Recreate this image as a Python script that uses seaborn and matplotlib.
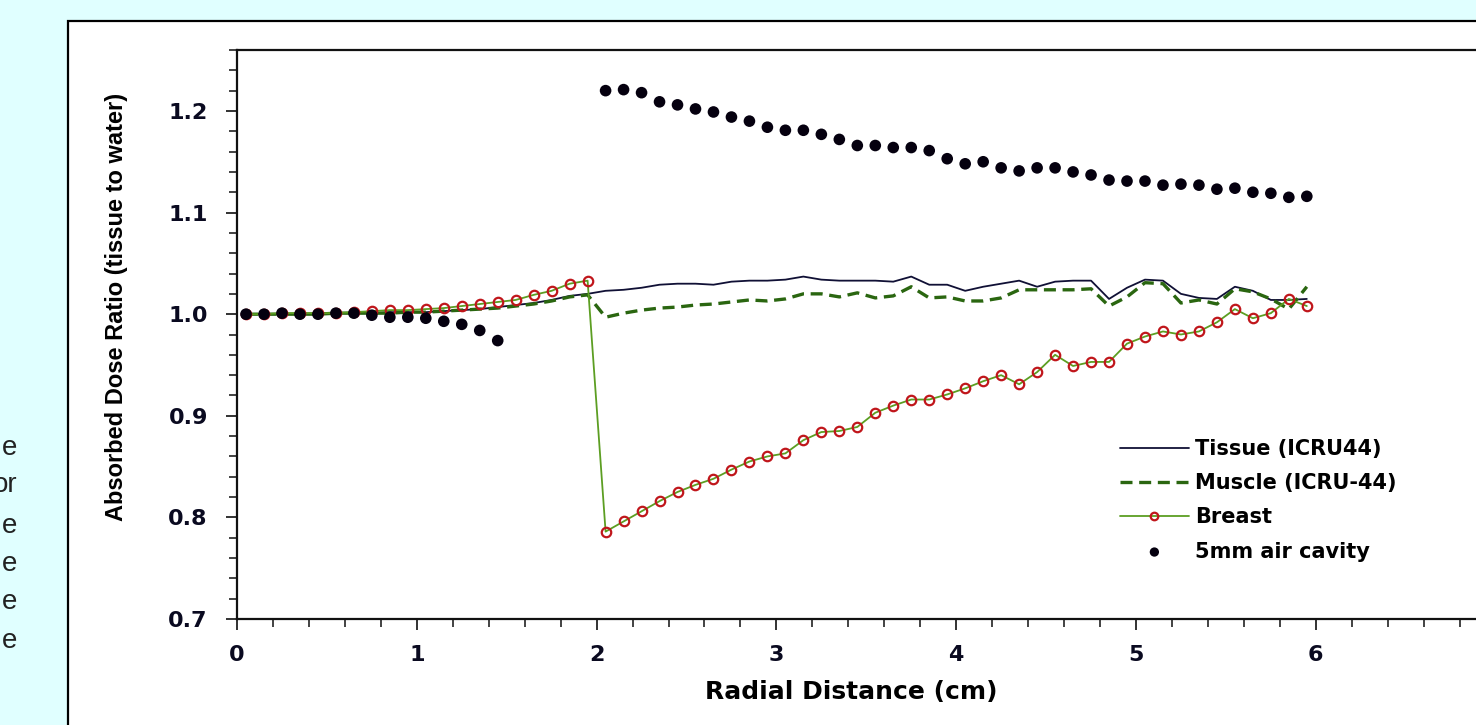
import matplotlib
matplotlib.use("Agg")
import matplotlib.pyplot as plt
import seaborn as sns
import pandas as pd
from matplotlib.patches import Rectangle
from matplotlib.ticker import MultipleLocator

# ---------------- data ----------------
dist_cm = [0.05, 0.15, 0.25, 0.35, 0.45, 0.55, 0.65, 0.75, 0.85, 0.95,
           1.05, 1.15, 1.25, 1.35, 1.45, 1.55, 1.65, 1.75, 1.85, 1.95,
           2.05, 2.15, 2.25, 2.35, 2.45, 2.55, 2.65, 2.75, 2.85, 2.95,
           3.05, 3.15, 3.25, 3.35, 3.45, 3.55, 3.65, 3.75, 3.85, 3.95,
           4.05, 4.15, 4.25, 4.35, 4.45, 4.55, 4.65, 4.75, 4.85, 4.95,
           5.05, 5.15, 5.25, 5.35, 5.45, 5.55, 5.65, 5.75, 5.85, 5.95]

tissue = [1.000, 1.000, 1.000, 1.000, 1.001, 1.001, 1.001, 1.001, 1.002, 1.002,
          1.002, 1.003, 1.004, 1.005, 1.007, 1.009, 1.011, 1.014, 1.018, 1.020,
          1.023, 1.024, 1.026, 1.029, 1.030, 1.030, 1.029, 1.032, 1.033, 1.033,
          1.034, 1.037, 1.034, 1.033, 1.033, 1.033, 1.032, 1.037, 1.029, 1.029,
          1.023, 1.027, 1.030, 1.033, 1.027, 1.032, 1.033, 1.033, 1.015, 1.026,
          1.034, 1.033, 1.020, 1.016, 1.015, 1.027, 1.023, 1.014, 1.014, 1.015]

muscle = [1.000, 1.000, 1.000, 1.000, 1.000, 1.001, 1.001, 1.001, 1.001, 1.002,
          1.002, 1.003, 1.004, 1.005, 1.006, 1.008, 1.010, 1.013, 1.017, 1.019,
          0.997, 1.001, 1.004, 1.006, 1.007, 1.009, 1.010, 1.012, 1.014, 1.013,
          1.015, 1.020, 1.020, 1.017, 1.021, 1.016, 1.018, 1.027, 1.016, 1.017,
          1.013, 1.013, 1.016, 1.024, 1.024, 1.024, 1.024, 1.025, 1.008, 1.017,
          1.031, 1.030, 1.011, 1.014, 1.010, 1.025, 1.022, 1.015, 1.005, 1.027]

breast = [1.000, 1.000, 1.001, 1.001, 1.001, 1.001, 1.002, 1.003, 1.004, 1.004,
          1.005, 1.006, 1.008, 1.010, 1.012, 1.014, 1.019, 1.023, 1.030, 1.033,
          0.786, 0.796, 0.806, 0.816, 0.825, 0.832, 0.838, 0.847, 0.855, 0.860,
          0.863, 0.876, 0.884, 0.885, 0.889, 0.903, 0.910, 0.916, 0.916, 0.921,
          0.927, 0.934, 0.940, 0.931, 0.943, 0.960, 0.949, 0.953, 0.953, 0.971,
          0.978, 0.983, 0.980, 0.983, 0.992, 1.005, 0.996, 1.001, 1.015, 1.008]

air_x = dist_cm[:15] + dist_cm[20:]
air_cavity = [1.000, 1.000, 1.001, 1.000, 1.000, 1.001, 1.001, 0.999, 0.997, 0.997,
              0.996, 0.993, 0.990, 0.984, 0.974,
              1.220, 1.221, 1.218, 1.209, 1.206, 1.202, 1.199, 1.194, 1.190, 1.184,
              1.181, 1.181, 1.177, 1.172, 1.166, 1.166, 1.164, 1.164, 1.161, 1.153,
              1.148, 1.150, 1.144, 1.141, 1.144, 1.144, 1.140, 1.137, 1.132, 1.131,
              1.131, 1.127, 1.128, 1.127, 1.123, 1.124, 1.120, 1.119, 1.115, 1.116]

series_labels = ["Tissue (ICRU44)", "Muscle (ICRU-44)", "Breast", "5mm air cavity"]
x_ticks = [0, 1, 2, 3, 4, 5, 6]
y_ticks = [0.7, 0.8, 0.9, 1.0, 1.1, 1.2]
side_fragments = ["e", "or", "e", "e", "e", "e"]

x_label = "Radial Distance (cm)"
y_label = "Absorbed Dose Ratio (tissue to water)"

# ---------------- figure ----------------
sns.set_theme(style="white")
plt.rcParams["font.family"] = ["DejaVu Sans"]

W, H = 1476, 725
fig = plt.figure(figsize=(W / 100, H / 100), dpi=100)
fig.patch.set_facecolor("#e0ffff")

# white slide panel with black border (extends past right/bottom edges)
panel = Rectangle((68 / W, -0.2), 1.5, 1 - 21 / H + 0.2, transform=fig.transFigure,
                  facecolor="white", edgecolor="black", linewidth=1.6, zorder=-10)
fig.patches.append(panel)

# fragments of slide text at left edge
frag_baselines = [455, 492, 533, 571, 609, 648]
for txt, yb in zip(side_fragments, frag_baselines):
    fig.text(17 / W, 1 - yb / H, txt, ha="right", va="baseline", fontsize=20,
             color="#222222", family=["Liberation Sans", "DejaVu Sans"])

# axes: x 0..7 (cropped at right), y 0.7..1.26
x0_px, per_cm = 237, 179.8
ax_left = x0_px / W
ax_width = 7 * per_cm / W
ax_bottom = (H - 619) / H
ax_top = (H - 50) / H
ax = fig.add_axes([ax_left, ax_bottom, ax_width, ax_top - ax_bottom])
ax.set_zorder(1)
ax.set_facecolor("white")

df = pd.DataFrame({"dist": dist_cm, "tissue": tissue, "muscle": muscle, "breast": breast})
df_air = pd.DataFrame({"dist": air_x, "air": air_cavity})

sns.lineplot(data=df, x="dist", y="tissue", ax=ax, color="#101035", linewidth=1.3,
             label=series_labels[0], zorder=3)
sns.lineplot(data=df, x="dist", y="muscle", ax=ax, color="#2a6610", linewidth=2.4,
             label=series_labels[1], zorder=3)
sns.lineplot(data=df, x="dist", y="breast", ax=ax, color="#5c9e22", linewidth=1.3,
             marker="o", markersize=6.8, markerfacecolor="none",
             markeredgecolor="#c0161b", markeredgewidth=1.6,
             label=series_labels[2], zorder=4)
sns.scatterplot(data=df_air, x="dist", y="air", ax=ax, color="#05000f", s=70,
                edgecolor="none", label=series_labels[3], zorder=5)

ax.lines[1].set_dashes([3.6, 2.0])

ax.set_xlim(0, 7)
ax.set_ylim(0.7, 1.26)
ax.set_xticks(x_ticks)
ax.set_xticklabels([str(v) for v in x_ticks])
ax.set_yticks(y_ticks)
ax.set_yticklabels([f"{v:.1f}" for v in y_ticks])
ax.xaxis.set_minor_locator(MultipleLocator(0.2))
ax.yaxis.set_minor_locator(MultipleLocator(0.02))

tick_color = "#0a0a20"
ax.tick_params(axis="both", which="major", direction="out", length=8, width=1.3,
               color="#222222", labelsize=16, labelcolor=tick_color)
ax.tick_params(axis="both", which="minor", direction="out", length=6, width=1.2,
               color="#222222")
ax.tick_params(axis="x", which="major", pad=11)
ax.tick_params(axis="y", which="major", pad=13)
ax.tick_params(axis="x", which="both", bottom=True, top=False)
ax.tick_params(axis="y", which="both", left=True, right=False)
for lab in ax.get_xticklabels() + ax.get_yticklabels():
    lab.set_fontweight("bold")

for side in ["left", "bottom", "top", "right"]:
    ax.spines[side].set_visible(True)
    ax.spines[side].set_color("#111111")
    ax.spines[side].set_linewidth(1.6)

ax.set_xlabel(x_label, fontsize=18, fontweight="bold", color="black")
ax.set_ylabel(y_label, fontsize=17, fontweight="bold", color="black",
              family=["Liberation Sans", "DejaVu Sans"])
ax.yaxis.set_label_coords(-(x0_px - 116) / (7 * per_cm), (619 - 307) / 569.0)
ax.xaxis.set_label_coords((851 - x0_px) / (7 * per_cm), -(692 - 619) / 569.0)
ax.xaxis.label.set_va("center")
ax.yaxis.label.set_va("center")

leg = ax.legend(loc="upper left", bbox_to_anchor=(1120 / W, 1 - 439 / H),
                bbox_transform=fig.transFigure, frameon=False, fontsize=15,
                handlelength=3.3, handletextpad=0.3, labelspacing=0.68,
                borderpad=0, borderaxespad=0, markerscale=0.8)
for t in leg.get_texts():
    t.set_fontweight("bold")
    t.set_color("black")

fig.savefig("out.png", dpi=100, facecolor=fig.get_facecolor())
